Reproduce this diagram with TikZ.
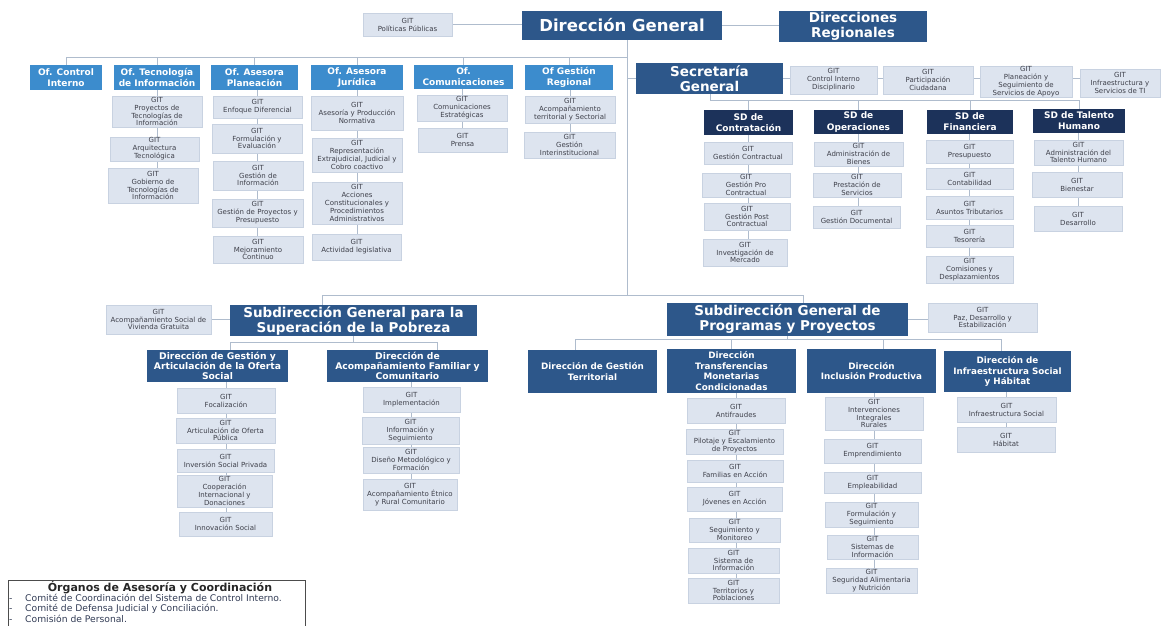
\documentclass[tikz,border=0pt]{standalone}
\usepackage{fontspec}
\setmainfont{DejaVu Sans}
\usetikzlibrary{backgrounds}
\definecolor{dblue}{RGB}{45,87,138}
\definecolor{navy}{RGB}{28,50,90}
\definecolor{ofblue}{RGB}{60,140,205}
\definecolor{gitfill}{RGB}{221,228,239}
\definecolor{gitline}{RGB}{200,210,225}
\definecolor{gittext}{RGB}{62,64,74}
\definecolor{conncol}{RGB}{175,188,205}
\definecolor{legtext}{RGB}{50,60,85}
\newcommand\bx[7]{\node[#1, minimum width={(#4)-(#2)}, minimum height={(#5)-(#3)}] (#6) at ({((#2)+(#4))/2},{((#3)+(#5))/2}) {#7};}
\tikzset{
 box/.style={inner sep=0pt, outer sep=0pt, align=center},
 git/.style={box, fill=gitfill, draw=gitline, line width=0.5pt, text=gittext, font=\fontsize{7}{7.9}\selectfont},
 ofbox/.style={box, fill=ofblue, text=white, font=\fontsize{9}{11}\selectfont\bfseries},
 sdbox/.style={box, fill=navy, text=white, font=\fontsize{9}{11.2}\selectfont\bfseries},
 headbox/.style={box, fill=dblue, text=white, font=\fontsize{13.5}{15}\selectfont\bfseries},
 dgbox/.style={box, fill=dblue, text=white, font=\fontsize{16.5}{18}\selectfont\bfseries},
 dirL/.style={box, fill=dblue, text=white, font=\fontsize{9.2}{10}\selectfont\bfseries},
 dirR/.style={box, fill=dblue, text=white, font=\fontsize{8.8}{10.8}\selectfont\bfseries},
 conn/.style={draw=conncol, line width=1pt},
 legitem/.style={anchor=west, inner sep=0pt, text=legtext, font=\fontsize{9.2}{11}\selectfont},
}
\begin{document}
\begin{tikzpicture}[x=1pt,y=-1pt]
\useasboundingbox (0,0) rectangle (1169,625);
% ---------- top ----------
\bx{git}{363}{13}{452}{36}{pol}{GIT\\Políticas Públicas}
\bx{dgbox}{522}{11}{722}{40}{dg}{Dirección General}
\bx{headbox}{779}{11}{927}{42}{dr}{Direcciones\\Regionales}
% ---------- oficinas ----------
\bx{ofbox}{30}{65}{102}{90}{ofci}{Of. Control\\Interno}
\bx{ofbox}{114}{65}{200}{90}{ofti}{Of. Tecnología\\de Información}
\bx{ofbox}{211}{65}{298}{90}{ofap}{Of. Asesora\\Planeación}
\bx{ofbox}{311}{65}{403}{90}{ofaj}{Of. Asesora\\Jurídica}
\bx{ofbox}{414}{65}{513}{89}{ofco}{Of.\\Comunicaciones}
\bx{ofbox}{525}{65}{613}{90}{ofgr}{Of Gestión\\Regional}
% tecnologia
\bx{git}{112}{96}{202}{127}{ti1}{GIT\\Proyectos de\\Tecnologías de\\Información}
\bx{git}{110}{137}{199}{161}{ti2}{GIT\\Arquitectura\\Tecnológica}
\bx{git}{108}{168}{198}{203}{ti3}{GIT\\Gobierno de\\Tecnologías de\\Información}
% planeacion
\bx{git}{213}{96}{302}{118}{p1}{GIT\\Enfoque Diferencial}
\bx{git}{212}{124}{302}{153}{p2}{GIT\\Formulación y\\Evaluación}
\bx{git}{213}{161}{303}{190}{p3}{GIT\\Gestión de\\Información}
\bx{git}{212}{199}{303}{227}{p4}{GIT\\Gestión de Proyectos y\\Presupuesto}
\bx{git}{213}{236}{303}{263}{p5}{GIT\\Mejoramiento\\Continuo}
% juridica
\bx{git}{311}{96}{403}{130}{j1}{GIT\\Asesoría y Producción\\Normativa}
\bx{git}{312}{138}{402}{172}{j2}{GIT\\Representación\\Extrajudicial, Judicial y\\Cobro coactivo}
\bx{git}{312}{182}{402}{224}{j3}{GIT\\Acciones\\Constitucionales y\\Procedimientos\\Administrativos}
\bx{git}{312}{234}{401}{260}{j4}{GIT\\Actividad legislativa}
% comunicaciones
\bx{git}{417}{95}{507}{121}{co1}{GIT\\Comunicaciones\\Estratégicas}
\bx{git}{418}{128}{507}{152}{co2}{GIT\\Prensa}
% gestion regional
\bx{git}{525}{96}{615}{123}{gr1}{GIT\\Acompañamiento\\territorial y Sectorial}
\bx{git}{524}{132}{615}{158}{gr2}{GIT\\Gestión\\Interinstitucional}
% ---------- secretaria ----------
\bx{headbox}{636}{63}{783}{94}{sec}{Secretaría\\General}
\bx{git}{790}{66}{877}{94}{cid}{GIT\\Control Interno\\Disciplinario}
\bx{git}{883}{66}{973}{94}{pcu}{GIT\\Participación\\Ciudadana}
\bx{git}{980}{66}{1072}{97}{psa}{GIT\\Planeación y\\Seguimiento de\\Servicios de Apoyo}
\bx{git}{1080}{69}{1160}{97}{iti}{GIT\\Infraestructura y\\Servicios de TI}
\bx{sdbox}{704}{110}{793}{135}{sdc}{SD de\\Contratación}
\bx{sdbox}{814}{110}{903}{134}{sdo}{SD de\\Operaciones}
\bx{sdbox}{927}{110}{1013}{134}{sdf}{SD de\\Financiera}
\bx{sdbox}{1033}{109}{1125}{133}{sdt}{SD de Talento\\Humano}
\bx{git}{704}{142}{792}{164}{c1}{GIT\\Gestión Contractual}
\bx{git}{702}{173}{790}{197}{c2}{GIT\\Gestión Pro\\Contractual}
\bx{git}{704}{203}{790}{230}{c3}{GIT\\Gestión Post\\Contractual}
\bx{git}{703}{239}{787}{266}{c4}{GIT\\Investigación de\\Mercado}
\bx{git}{814}{142}{903}{166}{o1}{GIT\\Administración de\\Bienes}
\bx{git}{813}{173}{901}{197}{o2}{GIT\\Prestación de\\Servicios}
\bx{git}{813}{206}{900}{228}{o3}{GIT\\Gestión Documental}
\bx{git}{926}{140}{1013}{163}{f1}{GIT\\Presupuesto}
\bx{git}{926}{168}{1013}{189}{f2}{GIT\\Contabilidad}
\bx{git}{926}{196}{1013}{219}{f3}{GIT\\Asuntos Tributarios}
\bx{git}{926}{225}{1013}{247}{f4}{GIT\\Tesorería}
\bx{git}{926}{256}{1013}{283}{f5}{GIT\\Comisiones y\\Desplazamientos}
\bx{git}{1034}{140}{1123}{165}{t1}{GIT\\Administración del\\Talento Humano}
\bx{git}{1032}{172}{1122}{197}{t2}{GIT\\Bienestar}
\bx{git}{1034}{206}{1122}{231}{t3}{GIT\\Desarrollo}
% ---------- subdireccion pobreza ----------
\bx{git}{106}{305}{211}{334}{viv}{GIT\\Acompañamiento Social de\\Vivienda Gratuita}
\bx{headbox}{230}{305}{477}{336}{sgsp}{Subdirección General para la\\Superación de la Pobreza}
\bx{dirL}{147}{350}{288}{382}{dga}{Dirección de Gestión y\\Articulación de la Oferta\\Social}
\bx{dirL}{327}{350}{488}{382}{daf}{Dirección de\\Acompañamiento Familiar y\\Comunitario}
\bx{git}{177}{388}{275}{413}{a1}{GIT\\Focalización}
\bx{git}{176}{418}{275}{443}{a2}{GIT\\Articulación de Oferta\\Pública}
\bx{git}{177}{449}{274}{472}{a3}{GIT\\Inversión Social Privada}
\bx{git}{177}{475}{272}{507}{a4}{GIT\\Cooperación\\Internacional y\\Donaciones}
\bx{git}{179}{512}{272}{536}{a5}{GIT\\Innovación Social}
\bx{git}{363}{387}{460}{412}{b1}{GIT\\Implementación}
\bx{git}{362}{417}{459}{444}{b2}{GIT\\Información y\\Seguimiento}
\bx{git}{363}{447}{459}{473}{b3}{GIT\\Diseño Metodológico y\\Formación}
\bx{git}{363}{479}{457}{510}{b4}{GIT\\Acompañamiento Étnico\\y Rural Comunitario}
% ---------- subdireccion programas ----------
\bx{headbox}{667}{303}{908}{336}{sgpp}{Subdirección General de\\Programas y Proyectos}
\bx{git}{928}{303}{1037}{332}{paz}{GIT\\Paz, Desarrollo y\\Estabilización}
\bx{dirR}{528}{350}{657}{393}{dgt}{Dirección de Gestión\\Territorial}
\bx{dirR}{667}{349}{796}{393}{dtm}{Dirección\\Transferencias\\Monetarias\\Condicionadas}
\bx{dirR}{807}{349}{936}{393}{dip}{Dirección\\Inclusión Productiva}
\bx{dirR}{944}{351}{1071}{392}{dis}{Dirección de\\Infraestructura Social\\y Hábitat}
\bx{git}{687}{398}{785}{423}{m1}{GIT\\Antifraudes}
\bx{git}{686}{429}{783}{454}{m2}{GIT\\Pilotaje y Escalamiento\\de Proyectos}
\bx{git}{687}{460}{783}{482}{m3}{GIT\\Familias en Acción}
\bx{git}{687}{487}{782}{511}{m4}{GIT\\Jóvenes en Acción}
\bx{git}{689}{518}{780}{542}{m5}{GIT\\Seguimiento y\\Monitoreo}
\bx{git}{688}{548}{779}{573}{m6}{GIT\\Sistema de\\Información}
\bx{git}{688}{578}{779}{603}{m7}{GIT\\Territorios y\\Poblaciones}
\bx{git}{825}{397}{923}{430}{n1}{GIT\\Intervenciones\\Integrales\\Rurales}
\bx{git}{824}{439}{921}{463}{n2}{GIT\\Emprendimiento}
\bx{git}{824}{472}{921}{493}{n3}{GIT\\Empleabilidad}
\bx{git}{825}{502}{918}{527}{n4}{GIT\\Formulación y\\Seguimiento}
\bx{git}{827}{535}{918}{559}{n5}{GIT\\Sistemas de\\Información}
\bx{git}{826}{568}{917}{593}{n6}{GIT\\Seguridad Alimentaria\\y Nutrición}
\bx{git}{957}{397}{1056}{422}{s1}{GIT\\Infraestructura Social}
\bx{git}{957}{427}{1055}{452}{s2}{GIT\\Hábitat}
% ---------- legend ----------
\begin{scope}
\clip (0,0) rectangle (1169,625);
\draw[draw=black!70, line width=0.8pt] (8,580) rectangle (305,640);
\end{scope}
\node[inner sep=0pt, font=\fontsize{11}{13}\selectfont\bfseries, text=black!85] (legt) at (160,587.5) {Órganos de Asesoría y Coordinación};
\node[legitem] (leg1) at (9,598) {\makebox[16pt][l]{-}Comité de Coordinación del Sistema de Control Interno.};
\node[legitem] (leg2) at (9,608.5) {\makebox[16pt][l]{-}Comité de Defensa Judicial y Conciliación.};
\node[legitem] (leg3) at (9,618.5) {\makebox[16pt][l]{-}Comisión de Personal.};
% ---------- connectors ----------
\coordinate (trunk) at (627,295);
\coordinate (busA) at (66,57);
\coordinate (sdj) at (710,100);
\coordinate (bb1) at (322,295);
\coordinate (bb2) at (803,295);
\coordinate (sj) at (353,342);
\coordinate (sjl) at (230,342);
\coordinate (sjr) at (437,342);
\coordinate (pb1) at (575,339);
\coordinate (pbi) at (883,339);
\coordinate (pb2) at (1001,339);
\begin{pgfonlayer}{background}
\fill[white] (0,0) rectangle (1169,625);
\draw[conn] (pol.east) -- (pol.east -| dg.west);
\draw[conn] (dg.east) -- (dg.east -| dr.west);
\draw[conn] (dg.south -| trunk) -- (trunk);
\draw[conn] (busA) -- (busA -| trunk);
\foreach \n in {ofci,ofti,ofap,ofaj,ofco,ofgr} {\draw[conn] (\n.north) -- (\n.north |- busA);}
\draw[conn] (ti1.north |- ofti.south) -- (ti1.north |- ti3.north);
\draw[conn] (p1.north |- ofap.south) -- (p1.north |- p5.north);
\draw[conn] (j1.north |- ofaj.south) -- (j1.north |- j4.north);
\draw[conn] (co1.north |- ofco.south) -- (co1.north |- co2.north);
\draw[conn] (gr1.north |- ofgr.south) -- (gr1.north |- gr2.north);
\draw[conn] (sec.west) -- (sec.west -| trunk);
\draw[conn] (sec.east) -- (sec.east -| iti.west);
\draw[conn] (sec.south -| sdj) -- (sdj) -- (sdj -| sdt.north);
\foreach \n in {sdc,sdo,sdf,sdt} {\draw[conn] (\n.north) -- (\n.north |- sdj);}
\draw[conn] (c1.north |- sdc.south) -- (c1.north |- c4.north);
\draw[conn] (o1.north |- sdo.south) -- (o1.north |- o3.north);
\draw[conn] (f1.north |- sdf.south) -- (f1.north |- f5.north);
\draw[conn] (t1.north |- sdt.south) -- (t1.north |- t3.north);
\draw[conn] (sgsp.north -| bb1) -- (bb1) -- (bb2) -- (sgpp.north -| bb2);
\draw[conn] (viv.east) -- (viv.east -| sgsp.west);
\draw[conn] (sgsp.south -| sj) -- (sj);
\draw[conn] (dga.north -| sjl) -- (sjl) -- (sjr) -- (daf.north -| sjr);
\draw[conn] (a1.north |- dga.south) -- (a1.north |- a5.north);
\draw[conn] (b1.north |- daf.south) -- (b1.north |- b4.north);
\draw[conn] (sgpp.east) -- (sgpp.east -| paz.west);
\draw[conn] (sgpp.south) -- (sgpp.south |- pb1);
\draw[conn] (dgt.north -| pb1) -- (pb1) -- (pb2) -- (dis.north -| pb2);
\draw[conn] (dtm.north) -- (dtm.north |- pb1);
\draw[conn] (dip.north -| pbi) -- (pbi);
\draw[conn] (m1.north |- dtm.south) -- (m1.north |- m7.north);
\draw[conn] (n1.north |- dip.south) -- (n1.north |- n6.north);
\draw[conn] (s1.north |- dis.south) -- (s1.north |- s2.north);
\end{pgfonlayer}
\end{tikzpicture}
\end{document}
